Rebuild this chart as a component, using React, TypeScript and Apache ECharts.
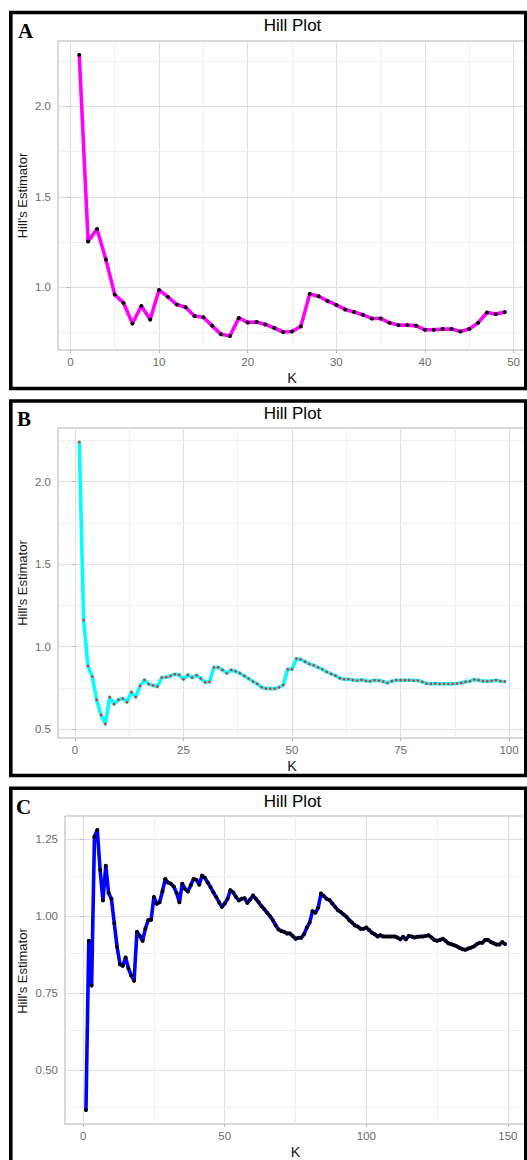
import React, { useEffect, useRef } from "react";
import * as echarts from "echarts";

// ---- Data ----
const hillA = [2.285, 1.252, 1.321, 1.153, 0.958, 0.912, 0.798, 0.895, 0.82, 0.984, 0.945, 0.903, 0.888, 0.84, 0.833, 0.785, 0.738, 0.729, 0.829, 0.804, 0.806, 0.793, 0.773, 0.751, 0.754, 0.782, 0.962, 0.949, 0.923, 0.901, 0.876, 0.862, 0.846, 0.826, 0.826, 0.802, 0.789, 0.789, 0.785, 0.763, 0.763, 0.767, 0.767, 0.754, 0.767, 0.802, 0.859, 0.85, 0.861];

const hillB = [2.24, 1.161, 0.883, 0.819, 0.678, 0.587, 0.532, 0.694, 0.652, 0.678, 0.686, 0.664, 0.724, 0.694, 0.762, 0.798, 0.773, 0.765, 0.758, 0.813, 0.815, 0.823, 0.833, 0.829, 0.803, 0.829, 0.813, 0.827, 0.807, 0.785, 0.787, 0.875, 0.875, 0.859, 0.839, 0.859, 0.851, 0.839, 0.823, 0.807, 0.789, 0.775, 0.754, 0.746, 0.746, 0.746, 0.754, 0.768, 0.863, 0.863, 0.927, 0.923, 0.909, 0.895, 0.887, 0.875, 0.863, 0.847, 0.835, 0.825, 0.809, 0.803, 0.803, 0.799, 0.795, 0.799, 0.793, 0.791, 0.797, 0.795, 0.789, 0.781, 0.791, 0.797, 0.797, 0.797, 0.797, 0.795, 0.795, 0.787, 0.777, 0.775, 0.777, 0.775, 0.775, 0.775, 0.775, 0.777, 0.781, 0.787, 0.791, 0.801, 0.797, 0.791, 0.791, 0.793, 0.797, 0.791, 0.789];

const hillC = [0.372, 0.92, 0.775, 1.257, 1.279, 1.15, 1.051, 1.163, 1.075, 1.056, 0.977, 0.9, 0.844, 0.839, 0.866, 0.831, 0.807, 0.791, 0.949, 0.936, 0.92, 0.96, 0.987, 0.988, 1.062, 1.04, 1.045, 1.08, 1.12, 1.109, 1.105, 1.096, 1.075, 1.045, 1.105, 1.088, 1.08, 1.1, 1.12, 1.118, 1.102, 1.131, 1.124, 1.109, 1.094, 1.077, 1.062, 1.045, 1.03, 1.041, 1.056, 1.084, 1.077, 1.062, 1.051, 1.056, 1.058, 1.043, 1.054, 1.067, 1.056, 1.045, 1.032, 1.022, 1.011, 1.0, 0.987, 0.97, 0.957, 0.952, 0.949, 0.944, 0.944, 0.936, 0.927, 0.93, 0.93, 0.941, 0.963, 0.979, 1.016, 1.011, 1.027, 1.073, 1.065, 1.056, 1.052, 1.041, 1.03, 1.019, 1.013, 1.005, 0.998, 0.987, 0.979, 0.97, 0.966, 0.959, 0.959, 0.963, 0.955, 0.946, 0.941, 0.934, 0.938, 0.934, 0.934, 0.934, 0.934, 0.934, 0.931, 0.925, 0.933, 0.925, 0.936, 0.934, 0.931, 0.933, 0.934, 0.934, 0.936, 0.938, 0.931, 0.923, 0.92, 0.923, 0.927, 0.92, 0.912, 0.909, 0.906, 0.902, 0.897, 0.893, 0.891, 0.895, 0.898, 0.902, 0.909, 0.914, 0.914, 0.923, 0.923, 0.916, 0.912, 0.908, 0.908, 0.916, 0.91];

// Tick labels (major) and minor grid positions
const xTicksA = [0, 10, 20, 30, 40, 50];
const yTicksA = [1.0, 1.5, 2.0];
const xMinorA = [5, 15, 25, 35, 45];
const yMinorA = [0.75, 1.25, 1.75, 2.25];

const xTicksB = [0, 25, 50, 75, 100];
const yTicksB = [0.5, 1.0, 1.5, 2.0];
const xMinorB = [12.5, 37.5, 62.5, 87.5];
const yMinorB = [0.75, 1.25, 1.75, 2.25];

const xTicksC = [0, 50, 100, 150];
const yTicksC = [0.5, 0.75, 1.0, 1.25];
const xMinorC = [25, 75, 125];
const yMinorC = [0.375, 0.625, 0.875, 1.125];

const panelLetters = ["A", "B", "C"];
const titleText = "Hill Plot";
const xName = "K";
const yName = "Hill's Estimator";

// ggplot-like 5% expansion
function expand(lo: number, hi: number) {
  const d = (hi - lo) * 0.05;
  return [lo - d, hi + d];
}

const FONT = "'Liberation Sans', Arial, sans-serif";

export default function App() {
  const ref = useRef<HTMLDivElement>(null);

  useEffect(() => {
    if (!ref.current) return;
    const chart = echarts.init(ref.current, undefined, { renderer: "svg" });

    const panels = [
      { vals: hillA, xt: xTicksA, yt: yTicksA, xm: xMinorA, ym: yMinorA, dec: 1, line: "#ff00ff", pt: "#000000", ps: 4, grid: { left: 58, top: 41, width: 468, height: 309 } },
      { vals: hillB, xt: xTicksB, yt: yTicksB, xm: xMinorB, ym: yMinorB, dec: 1, line: "#00ffff", pt: "#ff2020", ps: 2.6, grid: { left: 58, top: 428, width: 468, height: 310 } },
      { vals: hillC, xt: xTicksC, yt: yTicksC, xm: xMinorC, ym: yMinorC, dec: 2, line: "#0000ff", pt: "#000000", ps: 4, grid: { left: 65, top: 816, width: 461, height: 310 } },
    ];

    const grids: any[] = [];
    const xAxes: any[] = [];
    const yAxes: any[] = [];
    const series: any[] = [];

    panels.forEach((p, i) => {
      const data = p.vals.map((v, j) => [j + 1, v]);
      const [x0, x1] = expand(1, p.vals.length);
      const [y0, y1] = expand(Math.min(...p.vals), Math.max(...p.vals));
      grids.push({ ...p.grid, show: true, borderColor: "#b3b3b3", borderWidth: 1, backgroundColor: "#ffffff", containLabel: false });
      const labelStyle = { color: "#6b6b6b", fontSize: 11.5, fontFamily: FONT };
      xAxes.push({
        gridIndex: i, type: "value", min: x0, max: x1,
        axisLine: { show: false },
        axisTick: { show: true, length: 3, lineStyle: { color: "#b3b3b3" }, customValues: p.xt },
        axisLabel: { ...labelStyle, customValues: p.xt, margin: 6, formatter: (v: number) => String(Math.round(v)) },
        splitLine: { show: true, lineStyle: { color: "#dedede", width: 1 } },
        name: xName, nameLocation: "middle", nameGap: 20,
        nameTextStyle: { color: "#1a1a1a", fontSize: 14.5, fontFamily: FONT },
      });
      yAxes.push({
        gridIndex: i, type: "value", min: y0, max: y1,
        axisLine: { show: false },
        axisTick: { show: true, length: 3, lineStyle: { color: "#b3b3b3" }, customValues: p.yt },
        axisLabel: { ...labelStyle, customValues: p.yt, margin: 7, formatter: (v: number) => v.toFixed(p.dec) },
        splitLine: { show: true, lineStyle: { color: "#dedede", width: 1 } },
      });
      // minor grid lines
      series.push({
        type: "line", xAxisIndex: i, yAxisIndex: i, data: [], z: 1, silent: true,
        markLine: {
          silent: true, symbol: ["none", "none"], z: 1, label: { show: false },
          lineStyle: { color: "#eeeeee", width: 1, type: "solid" },
          emphasis: { disabled: true },
          data: [...p.xm.map((v) => ({ xAxis: v })), ...p.ym.map((v) => ({ yAxis: v }))],
        },
      });
      series.push({
        type: "line", xAxisIndex: i, yAxisIndex: i, data, z: 3,
        showSymbol: true, showAllSymbol: true, symbol: "circle", symbolSize: p.ps,
        itemStyle: { color: p.pt, borderWidth: 0 },
        lineStyle: { color: p.line, width: 3.6, join: "round", cap: "round" },
        emphasis: { disabled: true },
      });
    });

    const frames = [
      { y: 12.5, h: 376, ty: 25, ly: 31, lx: 18, ny: 195.5 },
      { y: 401, h: 374.5, ty: 413, ly: 418.5, lx: 17, ny: 583 },
      { y: 788.3, h: 420, ty: 801, ly: 807, lx: 16, ny: 971 },
    ];
    const graphic: any[] = [];
    frames.forEach((f, i) => {
      graphic.push({ type: "rect", z: 10, shape: { x: 10.8, y: f.y, width: 515, height: f.h }, style: { fill: "none", stroke: "#000", lineWidth: 3.6 } });
      graphic.push({ type: "text", z: 10, x: 292.5, y: f.ty, style: { text: titleText, fill: "#000", fontSize: 17, fontFamily: FONT, align: "center", verticalAlign: "middle" } });
      graphic.push({ type: "text", z: 10, x: f.lx, y: f.ly, style: { text: panelLetters[i], fill: "#000", fontSize: 21, fontWeight: "bold", fontFamily: "'Liberation Serif', 'Times New Roman', serif", align: "left", verticalAlign: "middle" } });
      graphic.push({ type: "text", z: 10, x: 22.5, y: f.ny, rotation: Math.PI / 2, style: { text: yName, fill: "#1a1a1a", fontSize: 13, fontFamily: FONT, align: "center", verticalAlign: "middle" } });
    });

    chart.setOption({
      animation: false,
      backgroundColor: "#ffffff",
      grid: grids,
      xAxis: xAxes,
      yAxis: yAxes,
      series,
      graphic,
    });
    return () => chart.dispose();
  }, []);

  return <div ref={ref} style={{ position: "absolute", left: 0, top: 0, width: 527, height: 1160 }} />;
}
